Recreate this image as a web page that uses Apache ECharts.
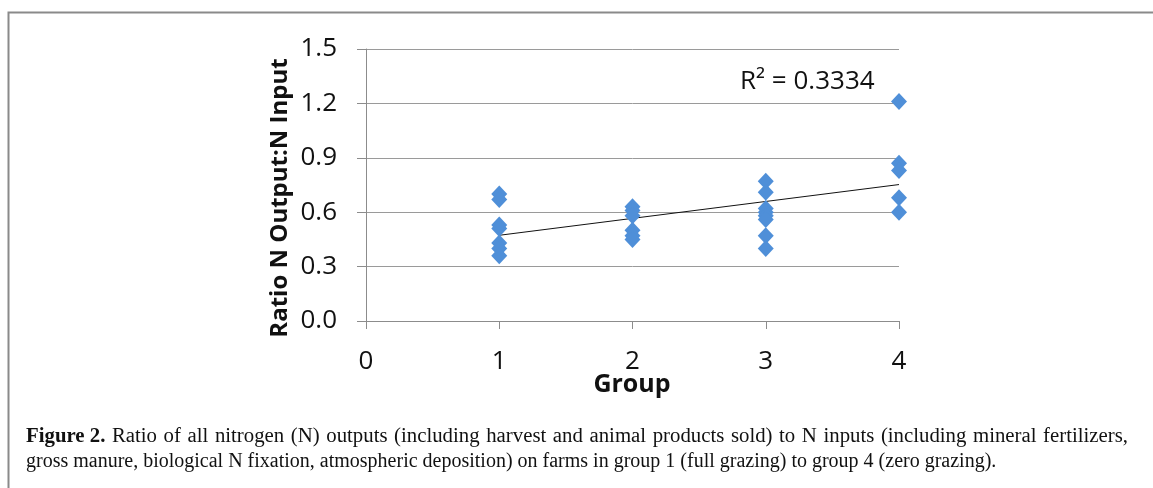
<!DOCTYPE html>
<html><head><meta charset="utf-8">
<script src="https://cdn.jsdelivr.net/npm/echarts@6/dist/echarts.min.js"></script>
<style>html,body{margin:0;padding:0;background:#fff}#c{width:1153px;height:488px}</style>
</head><body><div id="c"></div>
<script>
const groups = [1, 2, 3, 4];
const group1 = [0.70, 0.67, 0.53, 0.51, 0.43, 0.40, 0.36];
const group2 = [0.63, 0.61, 0.58, 0.50, 0.47, 0.45];
const group3 = [0.77, 0.71, 0.62, 0.60, 0.58, 0.56, 0.47, 0.40];
const group4 = [1.21, 0.87, 0.83, 0.68, 0.60];
const xTicks = [0, 1, 2, 3, 4];
const yTicks = [0.0, 0.3, 0.6, 0.9, 1.2, 1.5];
const r2Label = 'R² = 0.3334';
const xTitle = 'Group';
const yTitle = 'Ratio N Output:N Input';
const caption1Bold = 'Figure 2.';
const caption1 = 'Ratio of all nitrogen (N) outputs (including harvest and animal products sold) to N inputs (including mineral fertilizers,';
const caption2 = 'gross manure, biological N fixation, atmospheric deposition) on farms in group 1 (full grazing) to group 4 (zero grazing).';

const all = [group1, group2, group3, group4];
const pts = [];
all.forEach((arr, i) => arr.forEach(v => pts.push([groups[i], v])));
// least-squares trend line
const n = pts.length;
const mx = pts.reduce((s, p) => s + p[0], 0) / n;
const my = pts.reduce((s, p) => s + p[1], 0) / n;
let sxy = 0, sxx = 0;
pts.forEach(p => { sxy += (p[0] - mx) * (p[1] - my); sxx += (p[0] - mx) ** 2; });
const slope = sxy / sxx, icpt = my - slope * mx;
const trend = [[1, icpt + slope * 1], [4, icpt + slope * 4]];

// justified caption line 1 (slightly widened glyphs, rest in word gaps)
const serif = '"Liberation Serif", serif';
const capSize = 20;
const stretch = 1.04;
const capLeft = 26, capRight = 1128;
const ctx = document.createElement('canvas').getContext('2d');
const words = [{t: caption1Bold, b: true}].concat(caption1.split(' ').map(t => ({t, b: false})));
let totalW = 0;
words.forEach(w => {
  ctx.font = (w.b ? 'bold ' : '') + capSize + 'px ' + serif;
  w.w = ctx.measureText(w.t).width * stretch; totalW += w.w;
});
const gap = (capRight - capLeft - totalW) / (words.length - 1);
const capGraphics = [];
let cx = capLeft;
words.forEach(w => {
  capGraphics.push({type: 'text', x: cx, y: 437, scaleX: stretch, silent: true,
    style: {text: w.t, fontFamily: serif, fontWeight: w.b ? 'bold' : 'normal', fontSize: capSize,
            fill: '#111', verticalAlign: 'middle'}});
  cx += w.w + gap;
});
capGraphics.push({type: 'text', x: capLeft, y: 462, silent: true,
  style: {text: caption2, fontFamily: serif, fontSize: capSize, fill: '#111', verticalAlign: 'middle'}});

const chart = echarts.init(document.getElementById('c'), null, {renderer: 'canvas'});
const font = '"Open Sans", sans-serif';
chart.setOption({
  animation: false,
  grid: {left: 366, right: 254, top: 49, bottom: 167},
  xAxis: {
    type: 'value', min: 0, max: 4, interval: 1,
    axisLine: {show: true, onZero: false, lineStyle: {color: '#8c8c8c', width: 1}},
    axisTick: {show: true, length: 8, inside: false, lineStyle: {color: '#8c8c8c'}},
    splitLine: {show: false},
    axisLabel: {fontFamily: font, fontSize: 26, color: '#111', margin: 28,
      formatter: v => xTicks.includes(v) ? String(v) : ''}
  },
  yAxis: {
    type: 'value', min: 0, max: 1.5, interval: 0.3,
    axisLine: {show: true, onZero: false, lineStyle: {color: '#8c8c8c', width: 1}},
    axisTick: {show: true, length: 9, lineStyle: {color: '#8c8c8c'}},
    splitLine: {show: true, lineStyle: {color: '#9a9a9a', width: 1}},
    axisLabel: {fontFamily: font, fontSize: 26, color: '#111', margin: 29,
      formatter: v => yTicks.some(t => Math.abs(t - v) < 1e-9) ? v.toFixed(1) : ''}
  },
  series: [
    {type: 'line', data: trend, symbol: 'none', lineStyle: {color: '#111', width: 1}, z: 3},
    {type: 'scatter', data: pts, symbol: 'diamond', symbolSize: [16, 17],
      itemStyle: {color: '#4f8fd8', opacity: 1}, z: 4}
  ],
  graphic: [
    {type: 'rect', shape: {x: 8.5, y: 12.5, width: 1200, height: 600},
      style: {fill: 'none', stroke: '#8a8a8a', lineWidth: 2}, silent: true},
    {type: 'text', x: 632, y: 385, silent: true,
      style: {text: xTitle, fontFamily: font, fontSize: 25, fontWeight: 'bold', fill: '#111',
              align: 'center', verticalAlign: 'middle'}},
    {type: 'text', x: 280, y: 198, rotation: Math.PI / 2, silent: true,
      style: {text: yTitle, fontFamily: font, fontSize: 24, fontWeight: 'bold', fill: '#111',
              align: 'center', verticalAlign: 'middle'}},
    {type: 'text', x: 740, y: 82, silent: true,
      style: {text: r2Label, fontFamily: font, fontSize: 26, fill: '#111', verticalAlign: 'middle'}}
  ].concat(capGraphics)
});
</script></body></html>
